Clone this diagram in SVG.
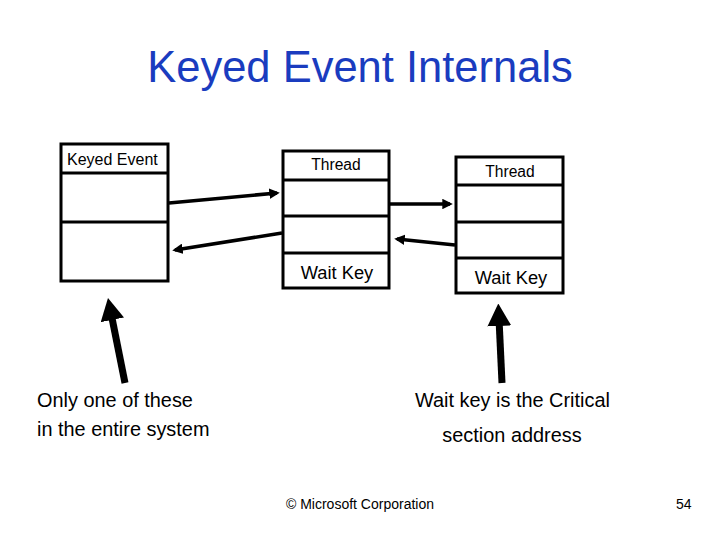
<svg xmlns="http://www.w3.org/2000/svg" width="720" height="540" viewBox="0 0 720 540">
<style>
.box{fill:#fff;stroke:#000;stroke-width:3}
.ln{stroke:#000;stroke-width:3}
.t{font-family:"Liberation Sans",Arial,sans-serif;fill:#000}
.c{stroke:#000;stroke-width:3.5;fill:none}
.v{stroke:#000;stroke-width:7;fill:none}
</style>
<defs>
<marker id="ah" markerWidth="3" markerHeight="3" refX="2.2" refY="1.5" orient="auto" markerUnits="strokeWidth">
<path d="M0,0 L3,1.5 L0,3 Z" fill="#000"/>
</marker>
<marker id="bh" markerWidth="3.2" markerHeight="3.4" refX="1" refY="1.7" orient="auto" markerUnits="strokeWidth">
<path d="M0,0 L3.2,1.7 L0,3.4 Z" fill="#000"/>
</marker>
</defs>
<rect width="720" height="540" fill="#fff"/>
<text class="t" x="360" y="82" font-size="43.5" text-anchor="middle" style="fill:#1a3cbf">Keyed Event Internals</text>

<g id="keyed-event">
<rect class="box" x="61" y="144" width="107" height="137"/>
<line class="ln" x1="61" y1="173" x2="168" y2="173"/>
<line class="ln" x1="61" y1="222" x2="168" y2="222"/>
<text class="t" x="67" y="165" font-size="16">Keyed Event</text>
</g>

<g id="thread1">
<rect class="box" x="283" y="151" width="106" height="137"/>
<line class="ln" x1="283" y1="180" x2="389" y2="180"/>
<line class="ln" x1="283" y1="216" x2="389" y2="216"/>
<line class="ln" x1="283" y1="253" x2="389" y2="253"/>
<text class="t" x="336" y="170" font-size="15.6" text-anchor="middle">Thread</text>
<text class="t" x="337" y="279" font-size="18.3" text-anchor="middle">Wait Key</text>
</g>

<g id="thread2">
<rect class="box" x="456" y="157" width="107" height="136"/>
<line class="ln" x1="456" y1="185" x2="563" y2="185"/>
<line class="ln" x1="456" y1="222" x2="563" y2="222"/>
<line class="ln" x1="456" y1="258" x2="563" y2="258"/>
<text class="t" x="510" y="177" font-size="15.6" text-anchor="middle">Thread</text>
<text class="t" x="511" y="284" font-size="18.3" text-anchor="middle">Wait Key</text>
</g>

<g id="connectors">
<line class="c" x1="169" y1="203" x2="277" y2="193" marker-end="url(#ah)"/>
<line class="c" x1="282" y1="233" x2="175" y2="250" marker-end="url(#ah)"/>
<line class="c" x1="390" y1="204" x2="450" y2="204" marker-end="url(#ah)"/>
<line class="c" x1="455" y1="245" x2="397" y2="239" marker-end="url(#ah)"/>
<line class="v" x1="125" y1="383" x2="111" y2="313" marker-end="url(#bh)"/>
<line class="v" x1="502" y1="383" x2="499" y2="319" marker-end="url(#bh)"/>
</g>

<text class="t" x="37" y="407" font-size="19.9">Only one of these</text>
<text class="t" x="37" y="436" font-size="19.9">in the entire system</text>
<text class="t" x="415" y="407" font-size="19.9">Wait key is the Critical</text>
<text class="t" x="512" y="442" font-size="19.9" text-anchor="middle">section address</text>
<text class="t" x="360" y="509" font-size="14" text-anchor="middle">© Microsoft Corporation</text>
<text class="t" x="676" y="509" font-size="14">54</text>
</svg>
